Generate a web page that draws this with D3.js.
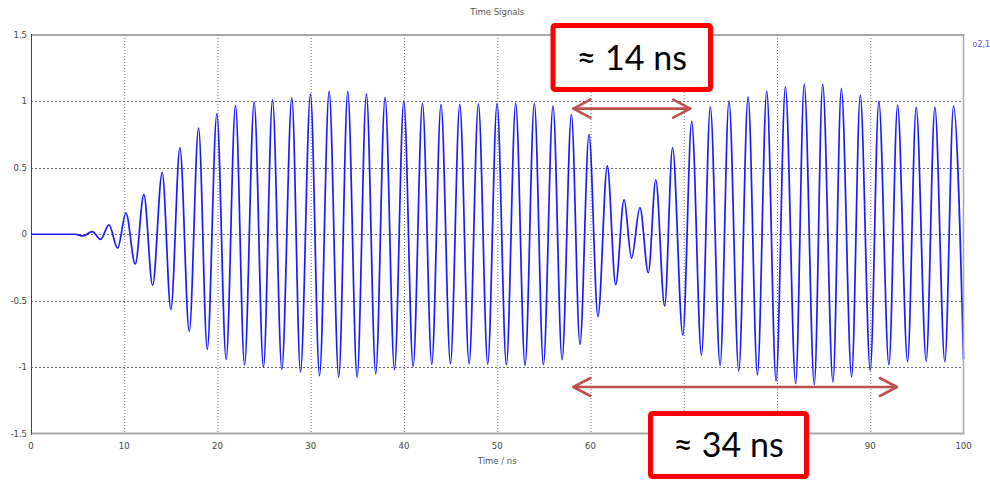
<!DOCTYPE html>
<meta charset="utf-8">
<script src="https://d3js.org/d3.v7.min.js"></script>
<style>
  body { margin: 0; background: #fff; }
  svg { display: block; }
</style>
<div id="chart"></div>
<script>
// signal turning points (time in ns, amplitude)
const times = [0, 4.7, 5.6, 6.57, 7.47, 8.36, 9.29, 10.18, 11.18, 12.1, 13.04, 14.07, 15.0,
  15.97, 16.97, 17.97, 18.9, 19.93, 20.93, 21.93, 22.9, 23.93, 24.93, 25.9, 26.9, 27.97, 28.9,
  29.97, 30.94, 31.97, 33.0, 33.97, 34.97, 35.97, 36.97, 37.97, 38.98, 39.98, 40.98, 41.98, 42.98,
  43.97, 44.98, 45.98, 46.98, 47.98, 48.98, 49.98, 50.98, 51.98, 52.98, 53.98, 54.95, 55.98, 56.95,
  57.95, 58.87, 59.84, 60.8, 61.8, 62.7, 63.6, 64.4, 65.3, 66.2, 67.0, 67.95, 68.8, 69.9,
  70.85, 71.9, 72.85, 73.9, 74.85, 75.9, 76.9, 77.9, 78.9, 79.9, 80.9, 82.0, 82.92, 84.0,
  84.9, 86.0, 86.9, 88.0, 88.93, 90.0, 90.92, 92.0, 92.93, 94.0, 94.93, 96.0, 96.93, 98.0,
  98.93, 100];
const amps = [0, 0, -0.013, 0.02, -0.038, 0.07, -0.105, 0.16, -0.224, 0.30, -0.384, 0.465, -0.565,
  0.65, -0.731, 0.80, -0.867, 0.906, -0.942, 0.97, -0.982, 0.997, -1.002, 1.012, -1.017, 1.027, -1.037,
  1.057, -1.065, 1.075, -1.075, 1.075, -1.075, 1.057, -1.05, 1.03, -1.02, 1.005, -0.995, 0.985, -0.98,
  0.977, -0.975, 0.977, -0.975, 0.982, -0.977, 0.985, -0.982, 0.985, -0.987, 0.985, -0.982, 0.967, -0.945,
  0.90, -0.83, 0.75, -0.62, 0.515, -0.38, 0.26, -0.18, 0.20, -0.29, 0.41, -0.54, 0.65, -0.76,
  0.85, -0.91, 0.96, -0.987, 1.005, -1.03, 1.035, -1.057, 1.078, -1.105, 1.11, -1.125, 1.13, -1.133,
  1.13, -1.113, 1.098, -1.075, 1.047, -1.025, 1.002, -0.982, 0.972, -0.96, 0.957, -0.955, 0.957, -0.96,
  0.965, -0.94];

const xTicks = [0, 10, 20, 30, 40, 50, 60, 70, 80, 90, 100];
const yTicks = [-1.5, -1, -0.5, 0, 0.5, 1, 1.5];

const W = 990, H = 481;
const plot = {left: 31, right: 963.5, top: 35, bottom: 433.5};

// annotation boxes (pixel layout)
const box1 = {x: 553, y: 25.5, w: 157.5, h: 64, label: "≈ 14 ns"};
const box2 = {x: 650.5, y: 413.5, w: 156, h: 63, label: "≈ 34 ns"};

const svg = d3.select("#chart").append("svg")
    .attr("width", W)
    .attr("height", H);

const x = d3.scaleLinear().domain([0, 100]).range([plot.left, plot.right]);
const y = d3.scaleLinear().domain([-1.5, 1.5]).range([plot.bottom, plot.top]);

// grid
svg.append("g").selectAll("line")
  .data(xTicks.slice(1, -1))
  .join("line")
    .attr("x1", d => x(d) + 0.5).attr("x2", d => x(d) + 0.5)
    .attr("y1", plot.top).attr("y2", plot.bottom)
    .attr("stroke", "#777").attr("stroke-width", 1)
    .attr("stroke-dasharray", "1,2");

svg.append("g").selectAll("line")
  .data(yTicks.slice(1, -1))
  .join("line")
    .attr("x1", plot.left).attr("x2", plot.right)
    .attr("y1", d => Math.round(y(d)) + 0.5).attr("y2", d => Math.round(y(d)) + 0.5)
    .attr("stroke", "#666").attr("stroke-width", 1)
    .attr("stroke-dasharray", "2,2");

// signal
const pts = times.map((t, i) => [t, amps[i]]);
svg.append("path")
    .datum(pts)
    .attr("fill", "none")
    .attr("stroke", "#1a1aff")
    .attr("stroke-width", 1.7)
    .attr("d", d3.line().x(d => x(d[0])).y(d => y(d[1])).curve(d3.curveMonotoneX));

// frame
svg.append("line").attr("x1", plot.left).attr("x2", plot.right + 1)
    .attr("y1", plot.top).attr("y2", plot.top).attr("stroke", "#a8a8a8").attr("stroke-width", 2);
svg.append("line").attr("x1", plot.left).attr("x2", plot.right + 1)
    .attr("y1", plot.bottom).attr("y2", plot.bottom).attr("stroke", "#a8a8a8").attr("stroke-width", 2);
svg.append("line").attr("x1", plot.right).attr("x2", plot.right)
    .attr("y1", plot.top).attr("y2", plot.bottom).attr("stroke", "#a8a8a8").attr("stroke-width", 1.5);
svg.append("line").attr("x1", plot.left + 0.5).attr("x2", plot.left + 0.5)
    .attr("y1", plot.top - 1).attr("y2", plot.bottom + 1).attr("stroke", "#444").attr("stroke-width", 1);

// tick labels
const tickFont = "DejaVu Sans, Verdana, sans-serif";
svg.append("g").selectAll("text")
  .data(yTicks)
  .join("text")
    .attr("x", plot.left - 4)
    .attr("y", d => y(d) + 3)
    .attr("text-anchor", "end")
    .attr("font-family", tickFont).attr("font-size", 8.5)
    .attr("fill", "#444")
    .text(d => d);

// labels that sit under the lower box are hidden in the reference
svg.append("g").selectAll("text")
  .data(xTicks.filter(d => x(d) < box2.x - 8 || x(d) > box2.x + box2.w + 8))
  .join("text")
    .attr("x", d => x(d))
    .attr("y", plot.bottom + 15)
    .attr("text-anchor", "middle")
    .attr("font-family", tickFont).attr("font-size", 8.5)
    .attr("fill", "#444")
    .text(d => d);

svg.append("text")
    .attr("x", (plot.left + plot.right) / 2)
    .attr("y", plot.bottom + 30)
    .attr("text-anchor", "middle")
    .attr("font-family", tickFont).attr("font-size", 8.5)
    .attr("fill", "#555")
    .text("Time / ns");

svg.append("text")
    .attr("x", (plot.left + plot.right) / 2)
    .attr("y", 15)
    .attr("text-anchor", "middle")
    .attr("font-family", tickFont).attr("font-size", 8.5)
    .attr("fill", "#555")
    .text("Time Signals");

svg.append("text")
    .attr("x", plot.right + 9)
    .attr("y", 47)
    .attr("font-family", tickFont).attr("font-size", 8)
    .attr("fill", "#5555ff")
    .text("o2,1");

// annotations: double arrows
const arrowColor = "#c0504d";
function arrow(t0, t1, v) {
  const g = svg.append("g").attr("stroke", arrowColor).attr("stroke-width", 2.6)
      .attr("fill", "none").attr("stroke-linecap", "round").attr("stroke-linejoin", "round");
  const xa = x(t0), xb = x(t1), yy = y(v);
  g.append("line").attr("x1", xa + 1).attr("x2", xb - 1).attr("y1", yy).attr("y2", yy);
  g.append("path").attr("d", `M${xa + 18},${yy - 9}L${xa + 1},${yy}L${xa + 18},${yy + 9}`);
  g.append("path").attr("d", `M${xb - 18},${yy - 9}L${xb - 1},${yy}L${xb - 18},${yy + 9}`);
}
arrow(58.06, 70.8, 0.946);
arrow(58.06, 92.96, -1.15);

// annotations: labelled boxes
function box(b) {
  svg.append("rect")
      .attr("x", b.x).attr("y", b.y).attr("width", b.w).attr("height", b.h)
      .attr("rx", 2)
      .attr("fill", "#fff").attr("stroke", "#ff0000").attr("stroke-width", 5);
  svg.append("text")
      .attr("x", b.x + b.w / 2)
      .attr("y", b.y + b.h / 2 + 12)
      .attr("text-anchor", "middle")
      .attr("font-family", "Lato, 'Open Sans', sans-serif")
      .attr("font-size", 34)
      .attr("fill", "#000")
      .text(b.label);
}
box(box1);
box(box2);
</script>
